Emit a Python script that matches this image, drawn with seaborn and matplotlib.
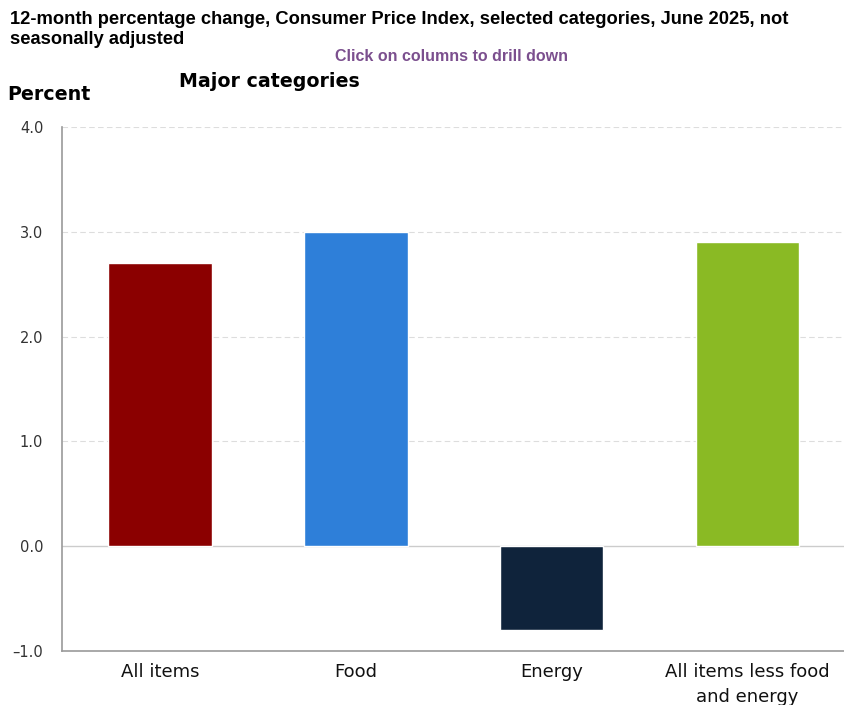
import matplotlib
matplotlib.use("Agg")
import matplotlib.pyplot as plt
import seaborn as sns
import pandas as pd

categories = ["All items", "Food", "Energy", "All items less food\nand energy"]
values = [2.7, 3.0, -0.8, 2.9]
colors = ["#8b0000", "#2e7fd9", "#0f233b", "#8aba24"]
yticks = [-1.0, 0.0, 1.0, 2.0, 3.0, 4.0]

sns.set_theme(style="white")
plt.rcParams["font.family"] = ["DejaVu Sans"]

df = pd.DataFrame({"category": categories, "value": values})

fig = plt.figure(figsize=(8.45, 7.05), dpi=100)
ax = fig.add_axes([0.0734, 0.0766, 0.927, 0.7433])

sns.barplot(data=df, x="category", y="value", hue="category", palette=colors,
            legend=False, width=0.53, ax=ax, saturation=1)

ax.set_ylim(-1.0, 4.0)
ax.set_xlim(-0.5, 3.5)
ax.set_yticks(yticks)
ax.set_yticklabels([f"{t:.1f}".replace("-", "\u2013") for t in yticks], fontsize=10.5, color="#333333")
ax.tick_params(axis="x", labelsize=13, colors="#111111", length=0, pad=9)
ax.tick_params(axis="y", length=0, pad=13.5)
for lbl in ax.get_xticklabels():
    lbl.set_linespacing(1.5)
ax.set_xlabel("")
ax.set_ylabel("")

for t in [1.0, 2.0, 3.0, 4.0]:
    ax.axhline(t, color="#dddddd", lw=0.8, ls=(0, (5, 3)), zorder=0)
ax.axhline(0.0, color="#cccccc", lw=1.0, zorder=0.5)

for s in ["top", "right"]:
    ax.spines[s].set_visible(False)
for s in ["left", "bottom"]:
    ax.spines[s].set_color("#999999")
    ax.spines[s].set_linewidth(1.2)

fig.text(0.012, 1 - 10.5 / 705, "12-month percentage change, Consumer Price Index, selected categories, June 2025, not\nseasonally adjusted",
         fontsize=13.2, fontweight="bold", family="Liberation Sans", va="top", ha="left",
         linespacing=1.3, color="#000000")
fig.text(0.534, 1 - 61 / 705, "Click on columns to drill down", fontsize=11.5, fontweight="bold",
         family="Liberation Sans", color="#7b4f8e", ha="center", va="baseline")
fig.text(0.212, 1 - 87 / 705, "Major categories", fontsize=13.7, fontweight="bold", ha="left",
         va="baseline", color="#000000")
fig.text(0.009, 1 - 100 / 705, "Percent", fontsize=13.7, fontweight="bold", ha="left",
         va="baseline", color="#000000")

fig.savefig("out.png", dpi=100)
